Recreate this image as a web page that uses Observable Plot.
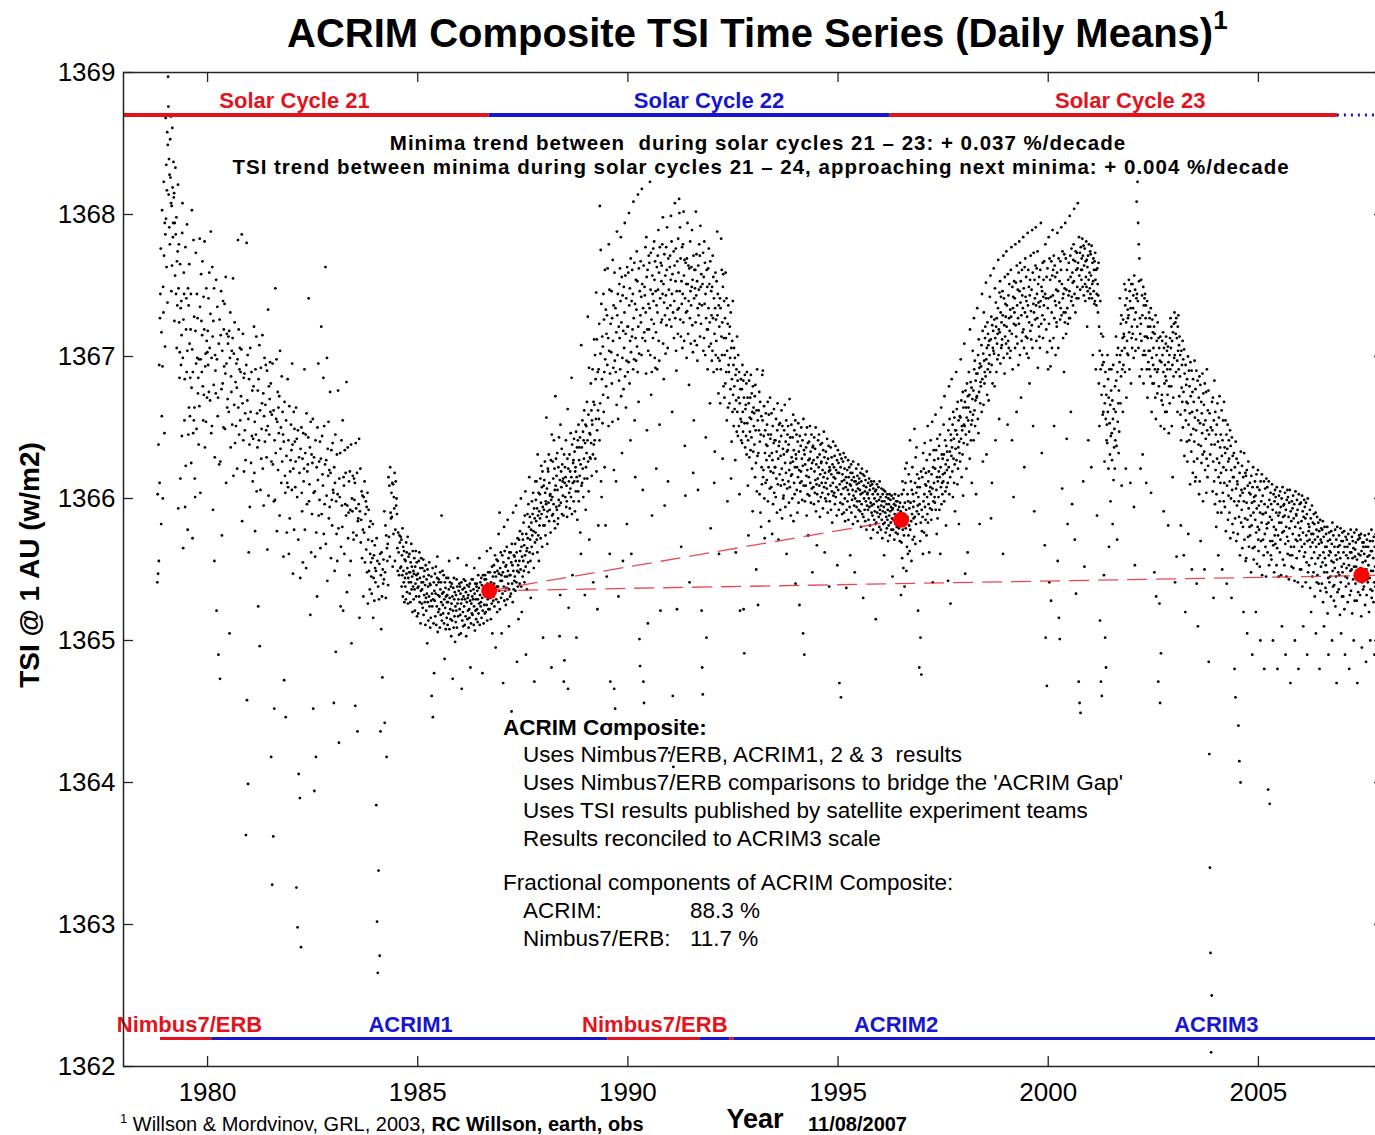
<!DOCTYPE html>
<html>
<head>
<meta charset="utf-8">
<script src="https://cdn.jsdelivr.net/npm/d3@7"></script>
<script src="https://cdn.jsdelivr.net/npm/@observablehq/plot@0.6"></script>
<style>
  html, body { margin: 0; padding: 0; background: #fff; overflow: hidden; }
  #wrap { position: relative; width: 1375px; height: 1135px; overflow: hidden; font-family: "Liberation Sans", Arial, Helvetica, sans-serif; }
  #chart { position: absolute; left: 0; top: 0; width: 1384px; }
  #chart svg { max-width: none !important; }
  .ov { position: absolute; white-space: pre; color: #000; }
  .title { font-weight: bold; font-size: 40px; left: 287px; top: 9px; }
  .title sup { font-size: 26px; position: relative; top: -4px; }
  .note { font-weight: bold; font-size: 20.5px; letter-spacing: 1px; line-height: 20px; transform: translateX(-50%); }
  .blk { font-size: 22.5px; }
</style>
</head>
<body>
<div id="wrap">
  <div id="chart"></div>
</div>
<script>
// ---------------- DATA ----------------
// Daily TSI values, grouped in 0.1-year bins.
// Each row: [bin start (year), "TSI − 1360 in 0.01 W/m² for successive days in that bin"]
const cycle21Bins = [
  [1978.8, "541 603 547 638 556 694 611 727 744 776 582"],
  [1978.9, "717 658 803 693 600 749 731 823 771 646 794 707 786"],
  [1979.0, "868 797 835 763 817 858 738 849 897 876 814 839 791 828"],
  [1979.1, "779 853 826 869 808 746 806 764 861 819 784 794 837 812"],
  [1979.2, "815 725 794 757 833 786 744 798 706 767 736 774 821"],
  [1979.3, "593 748 779 724 685 703 765 614 734 694 739 715 644 787"],
  [1979.4, "808 699 565 726 759 744 655 684 594 777 623 719 741"],
  [1979.5, "689 793 704 578 748 645 736 664 765 709 658 685 719"],
  [1979.6, "744 625 678 803 705 572 689 646 782 655 728 664 614"],
  [1979.7, "601 718 773 695 649 744 699 727 674 685 638 698"],
  [1979.8, "665 783 735 604 698 758 725 689 715 767 679 655"],
  [1979.9, "742 673 719 781 636 693 702 654 748 711 671 703"],
  [1980.0, "718 694 741 675 759 706 669 730 788 646 699"],
  [1980.1, "651 763 714 592 725 680 748 556 629 701 690 674"],
  [1980.2, "754 521 698 735 658 671 490 709 624 726 473"],
  [1980.3, "626 715 746 677 574 704 681 739 650 719 693"],
  [1980.4, "737 649 688 756 611 695 716 664 670 709 714"],
  [1980.5, "661 718 505 699 731 636 686 675 704 652 713"],
  [1980.6, "755 616 702 666 724 639 682 651 695 678"],
  [1980.7, "621 698 782 664 719 645 691 706 655 689 672"],
  [1980.8, "705 786 584 667 716 641 685 619 688 648 660"],
  [1980.9, "627 363 694 780 458 669 701 399 656 562 684 638"],
  [1981.0, "594 706 661 625 689 644 676 612 642 679"],
  [1981.1, "721 618 654 577 691 645 714 605 660 636 676"],
  [1981.2, "524 684 641 708 496 662 606 692 628 649 667"],
  [1981.3, "715 621 674 595 658 699 640 666 694 648"],
  [1981.4, "629 690 564 651 733 602 679 645 670 696 661"],
  [1981.5, "681 418 626 659 328 695 624 362 662 598 452 641"],
  [1981.6, "599 748 632 656 698 577 654 675 620 664 646"],
  [1981.7, "672 588 704 635 650 611 686 626 661 645"],
  [1981.8, "559 640 472 668 616 604 446 655 630 576 611"],
  [1981.9, "684 608 641 561 665 586 619 627 652 634"],
  [1982.0, "606 695 638 547 621 661 578 649 640 608 626"],
  [1982.1, "664 326 642 601 298 648 571 406 629 618 389"],
  [1982.2, "544 635 284 650 604 591 628 555 646 612 621"],
  [1982.3, "691 578 632 645 551 660 596 619 624 643"],
  [1982.4, "741 598 610 636 518 654 562 631 589 625"],
  [1982.5, "656 452 604 629 394 605 559 641 418 576 622"],
  [1982.6, "531 650 613 695 588 626 599 640 565 628"],
  [1982.7, "721 589 644 617 609 685 575 651 596 624"],
  [1982.8, "763 568 627 602 699 542 635 616 654 586 620"],
  [1982.9, "594 675 618 558 634 599 581 639 606 604"],
  [1983.0, "456 622 549 611 645 492 598 575 631 556 603"],
  [1983.1, "676 579 428 614 601 632 524 566 641 595"],
  [1983.2, "580 655 521 615 609 561 634 596 618 588"],
  [1983.3, "682 534 595 636 572 590 612 546 619 592"],
  [1983.4, "556 638 498 600 591 616 576 571 614 599"],
  [1983.5, "611 454 639 593 574 618 436 584 586 596"],
  [1983.6, "642 516 591 621 569 585 605 558 602 578"],
  [1983.7, "531 601 576 612 555 589 598 564 594 548"],
  [1983.8, "604 526 571 592 549 580 536 561 584 555 545"],
  [1983.9, "533 570 558 582 516 544 560 528 567 551 541"],
  [1984.0, "549 384 572 302 556 266 538 338 529 554 278"],
  [1984.1, "561 436 546 508 562 531 474 550 540 557 543"],
  [1984.2, "591 442 548 581 530 574 418 565 556 568 539"],
  [1984.3, "615 573 609 559 622 590 586 604 587 611"],
  [1984.4, "552 610 575 601 593 618 556 578 612 595 600"],
  [1984.5, "589 565 549 576 562 546 574 569 551 573"],
  [1984.6, "552 571 538 560 546 579 531 566 549 541 563 527 557 544"],
  [1984.7, "538 556 529 569 547 562 534 551 573 526 544 559 541 548"],
  [1984.8, "561 533 548 527 555 541 568 536 552 545 520 563 538 549"],
  [1984.9, "529 547 558 536 521 552 540 563 531 546 555 517 543 537"],
  [1985.0, "547 519 538 556 531 562 527 544 551 512 535 558 541 526"],
  [1985.1, "536 551 523 541 557 518 545 532 549 527 539 511 553 530"],
  [1985.2, "521 543 533 498 550 527 538 514 546 531 555 524 540 509"],
  [1985.3, "539 516 528 545 461 533 524 551 446 529 512 541 477 535"],
  [1985.4, "528 547 517 533 552 511 539 524 544 559 506 532 520 541"],
  [1985.5, "543 522 531 509 548 536 518 541 527 588 514 533 549 525"],
  [1985.6, "519 534 546 512 529 487 541 523 537 508 531 544 516 527"],
  [1985.7, "532 511 527 544 519 536 556 508 530 541 522 515 538 503"],
  [1985.8, "526 540 514 531 473 521 537 509 544 529 517 534 499 524"],
  [1985.9, "513 532 521 543 509 538 526 558 517 529 535 504 540 522"],
  [1986.0, "538 518 533 505 526 541 466 529 514 536 520 510 531 543"],
  [1986.1, "524 537 511 529 542 517 534 503 553 527 539 515 530 521"],
  [1986.2, "532 509 538 522 516 540 528 481 535 512 526 543 519 531"],
  [1986.3, "518 543 529 536 511 524 551 533 507 540 521 529 515 538"],
  [1986.4, "540 522 535 513 529 546 519 537 526 558 511 532 541 524"],
  [1986.5, "527 544 516 539 530 477 521 546 534 512 538 525 543 519"],
  [1986.6, "546 531 520 543 536 525 563 514 540 529 548 522 537 533"]
];
const cycle22Bins = [
  [1986.7, "539 522 548 530 565 515 541 534 526 552 505 537 545 528"],
  [1986.8, "531 553 540 524 548 560 536 495 545 529 557 538 520 549"],
  [1986.9, "556 538 527 575 547 535 590 522 551 542 562 530 546 505"],
  [1987.0, "542 560 533 548 470 555 538 580 528 563 545 535 552 525"],
  [1987.1, "553 537 566 545 529 585 549 540 558 510 536 562 546 531"],
  [1987.2, "546 562 533 555 450 568 540 553 527 590 549 536 560 542"],
  [1987.3, "559 545 568 535 556 595 541 562 485 549 572 538 553 515"],
  [1987.4, "548 571 556 540 577 563 550 600 538 566 520 559 575 545"],
  [1987.5, "571 556 583 549 567 541 588 560 605 552 490 575 563 536"],
  [1987.6, "565 589 572 555 596 548 580 615 562 587 571 556 530 578"],
  [1987.7, "583 566 598 574 589 561 604 577 551 593 471 586 569 612"],
  [1987.8, "576 599 584 612 571 593 562 631 588 574 604 556 591 581"],
  [1987.9, "603 586 614 572 597 623 589 608 566 619 594 502 581 609"],
  [1988.0, "592 613 581 626 604 574 598 596 657 587 607 568 591 621"],
  [1988.1, "619 597 631 584 611 592 602 603 576 627 599 481 645 588"],
  [1988.2, "601 626 589 614 596 641 584 621 606 579 672 609 628 594"],
  [1988.3, "616 592 632 606 582 586 622 599 643 595 503 613 532 652"],
  [1988.4, "597 619 608 635 589 624 612 602 614 588 471 631 486 611"],
  [1988.5, "622 601 615 641 594 609 598 587 628 663 466 621 523 612"],
  [1988.6, "604 631 593 619 607 646 601 615 685 589 638 546 611 625"],
  [1988.7, "627 598 642 612 633 591 619 622 605 647 502 615 636 585"],
  [1988.8, "612 641 605 652 598 627 636 616 643 576 624 561 708 609"],
  [1988.9, "636 611 655 621 647 601 641 628 662 614 532 639 652 592"],
  [1989.0, "622 651 632 668 614 641 728 626 659 605 692 571 646 629"],
  [1989.1, "645 628 681 639 662 616 655 652 691 631 541 668 638 712"],
  [1989.2, "666 641 701 628 684 656 745 619 712 648 522 689 662 581"],
  [1989.3, "691 656 723 641 806 667 702 775 612 737 601 684 714 653"],
  [1989.4, "707 673 744 661 726 689 622 761 698 581 733 679 716 545"],
  [1989.5, "729 694 762 671 713 651 779 704 747 561 688 471 723 441"],
  [1989.6, "703 746 681 727 654 768 711 692 736 620 466 759 697 452"],
  [1989.7, "734 689 612 717 666 788 729 701 744 656 531 721 683 751"],
  [1989.8, "713 762 691 739 784 672 724 756 632 699 743 556 718 677"],
  [1989.9, "749 706 731 794 686 757 716 664 741 697 582 763 721 689"],
  [1990.0, "721 759 696 801 736 681 748 711 641 769 703 561 739 714"],
  [1990.1, "761 719 744 691 809 727 698 766 655 737 615 713 754 697"],
  [1990.2, "733 774 707 753 689 814 721 668 762 702 501 746 482 729"],
  [1990.3, "767 724 742 701 818 751 713 606 734 471 764 456 717 749"],
  [1990.4, "743 711 777 731 688 784 756 648 719 761 512 704 737 771"],
  [1990.5, "719 766 734 823 701 747 773 673 726 689 588 757 744 713"],
  [1990.6, "776 739 723 781 754 699 767 692 746 717 621 736 763 691"],
  [1990.7, "731 771 747 789 711 759 697 652 777 741 521 766 724 753"],
  [1990.8, "764 726 779 744 798 709 751 684 738 772 595 729 757 702"],
  [1990.9, "743 777 722 761 791 734 706 612 769 441 747 421 726 763"],
  [1991.0, "771 736 754 799 721 781 744 661 758 461 731 411 774 713"],
  [1991.1, "739 764 808 727 753 776 704 690 746 522 767 733 716 783"],
  [1991.2, "759 734 811 801 746 791 726 769 714 566 753 737 777 706"],
  [1991.3, "744 779 724 802 757 711 768 637 741 602 766 731 751 699"],
  [1991.4, "769 732 794 751 716 764 739 680 762 541 727 781 746 709"],
  [1991.5, "736 763 749 789 722 754 703 618 771 655 741 761 711 748"],
  [1991.6, "761 724 802 743 772 708 753 697 734 606 764 729 747 779"],
  [1991.7, "737 771 714 792 749 723 758 521 736 481 751 462 773 704"],
  [1991.8, "756 713 781 737 766 701 744 643 727 502 761 719 749 691"],
  [1991.9, "719 762 734 776 707 751 724 667 767 579 709 746 729 697"],
  [1992.0, "749 704 771 727 756 689 741 611 716 633 734 759 701 726"],
  [1992.1, "711 753 691 788 729 744 699 674 736 561 721 697 741 667"],
  [1992.2, "734 691 783 714 761 701 724 628 749 758 679 713 739 671"],
  [1992.3, "701 727 681 759 713 689 741 655 704 598 723 664 736 694"],
  [1992.4, "689 716 667 721 699 677 731 614 706 640 684 711 661 739"],
  [1992.5, "673 694 651 706 679 663 699 627 687 562 669 691 647 714"],
  [1992.6, "661 683 644 701 671 651 689 603 667 521 677 656 684 641"],
  [1992.7, "654 677 639 694 661 647 683 522 671 491 653 687 636 663"],
  [1992.8, "666 644 681 631 689 653 671 609 641 574 667 683 629 657"],
  [1992.9, "647 671 634 687 656 643 674 621 661 591 679 633 664 651"],
  [1993.0, "660 638 672 615 680 648 625 550 662 605 691 630 655 525"],
  [1993.1, "632 662 648 675 603 640 668 590 645 580 658 622 610 687"],
  [1993.2, "655 690 615 620 644 665 600 572 632 648 611 660 638 627"],
  [1993.3, "613 652 637 668 598 645 622 659 584 630 607 671 642 619"],
  [1993.4, "645 608 660 632 575 627 651 596 618 639 663 604 641 622"],
  [1993.5, "622 641 601 656 614 633 590 648 667 610 628 571 637 652"],
  [1993.6, "640 617 653 592 630 609 644 662 621 586 651 613 635 600"],
  [1993.7, "602 631 648 610 666 625 594 640 618 655 561 633 607 645"],
  [1993.8, "634 651 612 638 597 620 670 608 643 625 588 616 652 629"],
  [1993.9, "617 600 643 626 659 584 634 611 648 603 622 655 540 631"],
  [1994.0, "628 645 606 622 590 640 615 653 597 633 620 525 644 611"],
  [1994.1, "605 637 619 650 612 628 599 641 623 505 656 609 634 490"],
  [1994.2, "631 598 624 645 609 636 616 588 650 620 603 639 574 627"],
  [1994.3, "615 640 602 628 651 611 633 597 621 645 607 625 548 636"],
  [1994.4, "637 608 627 596 643 619 604 635 613 650 591 624 610 567"],
  [1994.5, "603 629 614 641 598 622 645 609 631 587 617 638 601 625"],
  [1994.6, "626 611 639 604 620 593 634 615 647 608 629 562 618 600"],
  [1994.7, "611 633 598 625 607 642 614 590 628 603 637 619 538 622"],
  [1994.8, "598 620 609 636 592 617 629 605 583 624 611 640 602 615"],
  [1994.9, "622 604 630 596 614 637 601 620 608 588 627 553 618 634"],
  [1995.0, "606 625 592 618 470 610 631 597 622 460 603 628 612 589"],
  [1995.1, "617 596 626 607 632 590 613 621 600 584 629 608 615 537"],
  [1995.2, "592 611 620 598 606 627 585 615 603 622 594 610 560 618"],
  [1995.3, "609 624 590 613 599 618 606 582 626 602 615 595 612 548"],
  [1995.4, "600 587 612 605 621 594 610 598 616 584 607 624 592 611"],
  [1995.5, "614 598 606 591 618 603 580 612 596 621 589 604 617 530"],
  [1995.6, "587 609 600 616 592 605 584 613 598 608 578 619 595 603"],
  [1995.7, "604 592 611 585 600 614 594 606 581 609 597 572 612 590"],
  [1995.8, "595 610 588 603 578 607 596 612 585 600 591 605 582 515"],
  [1995.9, "606 583 598 610 590 576 603 594 608 587 599 580 612 592"],
  [1996.0, "589 601 578 595 607 585 598 572 603 591 582 606 594 560"],
  [1996.1, "598 583 605 590 576 601 587 596 579 603 585 592 570 600"],
  [1996.2, "581 596 588 603 574 591 599 583 594 578 602 586 592 545"],
  [1996.3, "593 578 600 585 596 571 589 603 582 595 576 598 587 580"],
  [1996.4, "584 598 575 592 587 602 579 594 586 570 597 582 591 532"]
];
const cycle23Bins = [
  [1996.5, "586 569 603 558 612 578 594 551 606 574 589 538 597 621"],
  [1996.6, "611 579 592 549 625 566 587 603 561 598 574 617 581 593"],
  [1996.7, "563 641 578 597 612 584 556 606 589 622 571 603 594 586"],
  [1996.8, "598 573 649 587 611 568 629 582 604 636 591 617 608 595"],
  [1996.9, "521 601 589 614 481 596 608 570 502 583 619 476 592 577"],
  [1997.0, "615 587 561 632 598 621 576 603 639 594 610 585 618 609"],
  [1997.1, "574 627 601 589 651 583 612 596 619 562 605 631 593 608"],
  [1997.2, "641 603 585 617 592 654 607 541 622 598 634 611 627 601"],
  [1997.3, "597 621 659 592 634 606 575 615 642 586 612 628 601 619"],
  [1997.4, "637 592 615 645 561 622 608 664 596 631 611 603 628 617"],
  [1997.5, "612 652 631 598 672 618 641 605 624 581 637 608 620 633"],
  [1997.6, "627 611 542 648 622 679 603 656 633 615 526 645 641 630"],
  [1997.7, "684 636 619 652 601 661 628 642 611 657 624 591 648 635"],
  [1997.8, "648 689 627 663 645 610 668 621 636 655 582 640 632 658"],
  [1997.9, "626 657 698 642 669 615 651 648 631 675 602 664 639 652"],
  [1998.0, "709 651 668 547 676 645 664 621 657 681 638 562 672 655"],
  [1998.1, "664 689 647 673 628 719 661 682 641 652 678 611 655 670"],
  [1998.2, "704 659 676 641 727 691 662 697 651 669 683 603 688 671"],
  [1998.3, "672 734 688 656 701 646 712 675 692 582 695 667 682 679"],
  [1998.4, "693 708 661 744 684 718 626 702 666 731 697 681 689 713"],
  [1998.5, "721 686 752 698 631 706 673 724 691 716 708 669 695 711"],
  [1998.6, "701 742 689 757 712 586 728 694 611 722 681 706 718 704"],
  [1998.7, "762 702 726 679 748 713 641 738 721 689 727 709 698 716"],
  [1998.8, "734 768 701 719 656 745 717 753 695 731 742 706 724 708"],
  [1998.9, "712 746 729 561 771 699 741 722 688 756 714 737 728 709"],
  [1999.0, "774 721 736 702 652 758 711 743 706 727 751 718 699 733"],
  [1999.1, "704 761 728 777 716 641 749 691 734 742 601 723 753 731"],
  [1999.2, "741 706 779 722 752 714 661 764 736 709 747 727 694 759"],
  [1999.3, "723 781 746 701 766 738 753 671 729 711 761 743 717 734"],
  [1999.4, "784 719 748 706 622 763 731 769 742 714 756 739 702 728"],
  [1999.5, "713 787 736 761 699 749 724 681 743 754 718 771 732 712"],
  [1999.6, "747 722 789 706 759 651 737 773 731 591 754 741 726 764"],
  [1999.7, "791 736 711 762 744 727 774 692 751 738 721 756 714 735"],
  [1999.8, "706 761 739 794 723 749 632 746 729 766 713 742 754 736"],
  [1999.9, "767 726 567 744 779 502 741 719 756 468 703 762 734 691"],
  [2000.0, "741 784 723 541 769 711 754 693 742 528 767 731 706 757"],
  [2000.1, "789 743 761 713 771 651 727 764 739 756 701 736 747 724"],
  [2000.2, "721 759 787 556 746 706 769 516 738 753 501 726 767 734"],
  [2000.3, "761 791 729 751 607 774 741 713 744 731 689 772 748 724"],
  [2000.4, "794 731 769 716 747 642 761 734 582 723 754 743 766 727"],
  [2000.5, "746 799 727 771 756 661 739 776 742 596 759 752 736 768"],
  [2000.6, "779 753 804 744 571 767 731 774 533 761 741 773 749 762"],
  [2000.7, "808 766 741 471 784 757 456 773 747 449 777 761 754 769"],
  [2000.8, "761 783 749 771 612 778 743 764 552 776 751 739 767 756"],
  [2000.9, "781 749 768 721 763 746 771 641 754 779 741 759 748 774"],
  [2001.0, "744 772 757 622 778 741 751 766 701 753 769 746 761 737"],
  [2001.1, "767 739 773 754 691 761 736 744 588 762 751 731 743 766"],
  [2001.2, "681 721 651 704 514 739 691 471 716 673 461 701 694 659"],
  [2001.3, "714 661 696 546 679 626 667 502 689 656 481 673 641 652"],
  [2001.4, "639 701 661 684 621 671 566 691 653 631 666 598 644 676"],
  [2001.5, "691 646 627 669 582 656 694 613 663 636 649 621 679 641"],
  [2001.6, "661 714 683 637 701 571 689 654 706 667 632 676 647 696"],
  [2001.7, "741 701 667 723 686 729 609 704 691 713 661 726 694 716"],
  [2001.8, "714 751 706 689 736 747 621 724 671 741 711 702 733 727"],
  [2001.9, "701 729 754 717 691 746 739 611 734 681 751 713 721 706"],
  [2002.0, "751 716 734 743 699 594 757 726 553 747 704 731 712 741"],
  [2002.1, "809 744 721 823 739 794 706 779 753 769 686 727 716 621"],
  [2002.2, "723 754 711 691 743 729 631 701 749 681 736 704 741 714"],
  [2002.3, "744 701 727 736 611 714 691 739 671 713 721 696 704 731"],
  [2002.4, "691 727 704 721 686 734 604 713 661 699 726 681 717 694"],
  [2002.5, "706 681 721 548 716 691 671 729 656 531 701 711 689 674"],
  [2002.6, "724 691 471 713 679 706 526 697 456 714 651 491 696 669"],
  [2002.7, "673 711 701 666 717 689 591 706 649 681 694 661 686 709"],
  [2002.8, "714 683 661 704 691 673 707 581 696 646 679 701 667 713"],
  [2002.9, "691 727 706 679 721 651 711 694 615 717 671 686 723 699"],
  [2003.0, "731 701 541 724 716 689 727 559 713 697 661 721 704 729"],
  [2003.1, "691 708 672 714 686 701 659 581 641 704 678 694 668 711"],
  [2003.2, "650 698 675 560 705 630 688 662 520 694 655 680 668 640"],
  [2003.3, "684 626 667 700 575 652 690 641 679 660 610 696 672 645"],
  [2003.4, "633 690 550 661 675 618 684 649 668 626 640 697 657 612"],
  [2003.5, "677 615 648 690 540 662 628 683 510 655 638 671 603 686"],
  [2003.6, "612 653 680 570 637 668 625 660 646 688 631 598 674 652"],
  [2003.7, "666 633 550 681 620 655 642 675 604 628 691 648 615 662"],
  [2003.8, "623 676 485 645 420 660 340 631 280 650 210 638 250 668"],
  [2003.9, "648 605 671 626 530 655 612 683 638 596 661 620 645 580"],
  [2004.0, "603 652 628 667 590 640 560 615 657 625 672 598 636 611"],
  [2004.1, "645 618 590 662 630 550 641 604 655 622 598 668 611 636"],
  [2004.2, "594 632 655 577 620 645 540 609 635 652 585 626 602 641"],
  [2004.3, "628 590 612 648 572 637 600 620 530 643 606 582 630 615"],
  [2004.4, "576 615 632 598 480 622 586 460 640 607 570 628 595 612"],
  [2004.5, "610 575 625 440 598 587 415 618 560 602 400 633 583 606"],
  [2004.6, "592 623 565 604 580 615 520 598 632 571 607 586 618 556"],
  [2004.7, "616 558 597 620 505 585 609 573 626 593 566 604 580 611"],
  [2004.8, "574 603 588 548 616 581 597 490 608 565 622 590 557 601"],
  [2004.9, "598 566 612 585 602 520 576 617 593 554 608 580 620 571"],
  [2005.0, "563 595 578 606 552 590 500 612 570 598 583 617 546 589"],
  [2005.1, "602 571 589 560 612 480 596 575 607 566 590 545 614 582"],
  [2005.2, "579 608 562 594 395 583 612 553 599 385 587 570 604 560"],
  [2005.3, "596 557 585 610 570 592 500 567 603 580 548 598 574 606"],
  [2005.4, "568 601 578 590 553 608 565 480 596 574 588 545 602 583"],
  [2005.5, "590 562 605 571 594 546 583 600 510 576 608 557 587 595"],
  [2005.6, "577 596 553 588 604 568 490 592 580 545 599 573 606 561"],
  [2005.7, "601 570 587 543 597 579 606 560 470 591 566 584 552 598"],
  [2005.8, "560 593 575 602 551 586 566 596 542 500 580 605 571 589"],
  [2005.9, "588 558 599 570 592 541 583 480 603 574 563 596 550 579"],
  [2006.0, "571 597 550 584 566 602 538 591 576 510 587 559 599 568"],
  [2006.1, "594 562 586 541 597 574 555 589 490 570 600 548 582 577"],
  [2006.2, "553 580 571 592 537 566 586 520 575 558 595 545 569 583"],
  [2006.3, "575 548 589 562 582 531 571 554 590 505 566 578 541 587"],
  [2006.4, "546 573 558 583 540 568 577 480 560 585 535 571 552 579"],
  [2006.5, "569 540 578 555 584 527 562 573 510 548 580 558 566 537"],
  [2006.6, "553 575 534 566 548 580 519 570 544 490 560 576 541 563"],
  [2006.7, "571 545 562 531 577 556 568 500 583 549 538 574 555 528"],
  [2006.8, "539 566 551 578 524 560 545 571 470 557 580 534 566 548"],
  [2006.9, "562 536 574 546 567 518 558 579 541 505 570 552 531 576"],
  [2007.0, "548 570 531 562 554 577 522 566 490 545 573 538 560 551"],
  [2007.1, "571 544 566 527 558 575 540 553 480 568 532 562 549 578"],
  [2007.2, "535 562 550 573 519 558 570 543 565 500 552 576 528 559"],
  [2007.3, "564 540 569 552 578 528 557 470 545 571 534 561 549 574"],
  [2007.4, "546 572 532 560 551 575 517 563 495 541 569 555 536 566"],
  [2007.5, "569 538 561 547 574 525 556 566 485 550 532 571 543 559"],
  [2007.6, "541 566 553 575 520 560 544 570 500 536 563 549 578 530"],
  [2007.7, "563 535 570 549 558 527 573 541 490 566 552 538 575 546"]
];

// Solar-cycle minima (red dots) and trend lines between them
const minimaYear = [1986.7, 1996.5, 2007.45];
const minimaTSI  = [1365.35, 1365.85, 1365.46];
const trendEndYear = 2008;      // trend 21–24 continues to axis end
const trendEndTSI = 1365.46;

// Solar cycle bar (top)
const cycleNames = ["Solar Cycle 21", "Solar Cycle 22", "Solar Cycle 23"];
const cycleStart = [1978.0, 1986.7, 1996.24];
const cycleEnd   = [1986.7, 1996.24, 2006.88];
const cycleLabelAt = [1982.07, 1991.93, 2001.95];
const nextCycleStart = 2006.88, nextCycleEnd = 2008;
const cycleBarTSI = 1368.70, cycleLabelTSI = 1368.80;

// Instrument bar (bottom)
const instrumentSegName  = ["Nimbus7/ERB", "ACRIM1", "Nimbus7/ERB", "ACRIM2", "Nimbus7/ERB", "ACRIM2/3"];
const instrumentSegStart = [1978.88, 1980.10, 1989.52, 1991.71, 1992.43, 1992.52];
const instrumentSegEnd   = [1980.10, 1989.52, 1991.71, 1992.43, 1992.52, 2008.0];
const instrumentLabels   = ["Nimbus7/ERB", "ACRIM1", "Nimbus7/ERB", "ACRIM2", "ACRIM3"];
const instrumentLabelAt  = [1979.57, 1984.83, 1990.64, 1996.38, 2004.0];
const instrumentBarTSI = 1362.197, instrumentLabelTSI = 1362.29;

const xTicks = [1980, 1985, 1990, 1995, 2000, 2005];
const yTicks = [1362, 1363, 1364, 1365, 1366, 1367, 1368, 1369];

// ---------------- BUILD ----------------
const RED = "#e3121c", BLUE = "#1616d0";
const isNimbus = n => n.startsWith("Nimbus");

function expand(bins) {
  const out = [];
  for (const [start, vals] of bins) {
    const vs = vals.trim().split(/\s+/).map(Number);
    vs.forEach((v, i) => out.push({year: start + (i + 0.5) * 0.1 / vs.length, tsi: 1360 + v / 100}));
  }
  return out;
}
const daily = [...expand(cycle21Bins), ...expand(cycle22Bins), ...expand(cycle23Bins)];
const minima = minimaYear.map((y, i) => ({year: y, tsi: minimaTSI[i]}));
const trends = [
  {x1: minima[0].year, y1: minima[0].tsi, x2: minima[1].year, y2: minima[1].tsi},
  {x1: minima[0].year, y1: minima[0].tsi, x2: trendEndYear, y2: trendEndTSI}
];
const cycles = cycleNames.map((n, i) => ({name: n, start: cycleStart[i], end: cycleEnd[i], at: cycleLabelAt[i], i}));
const segs = instrumentSegName.map((n, i) => ({name: n, start: instrumentSegStart[i], end: instrumentSegEnd[i]}));
const instLabels = instrumentLabels.map((n, i) => ({name: n, at: instrumentLabelAt[i]}));

const W = 1384, H = 1135, ML = 123, MR = 0, MT = 72, MB = 69;
const PW = W - ML - MR, PH = H - MT - MB;
const TICK = 10;
const FONT = "Liberation Sans, Arial, Helvetica, sans-serif";

const chart = Plot.plot({
  width: W, height: H,
  marginLeft: ML, marginRight: MR, marginTop: MT, marginBottom: MB,
  x: {domain: [1978, 2008]},
  y: {domain: [1362, 1369]},
  style: {fontFamily: FONT, background: "transparent", color: "#000", maxWidth: "none"},
  marks: [
    Plot.dot(daily, {x: "year", y: "tsi", r: 1.4, fill: "#000", stroke: "none"}),
    Plot.link(trends, {x1: "x1", y1: "y1", x2: "x2", y2: "y2", stroke: "#e8343c", strokeWidth: 1.3, strokeDasharray: "20,9", strokeOpacity: 0.9}),
    Plot.dot(minima, {x: "year", y: "tsi", r: 8, fill: "#f00", stroke: "none"}),
    Plot.ruleY(cycles, {y: () => cycleBarTSI, x1: "start", x2: "end", stroke: d => d.i % 2 ? BLUE : RED, strokeWidth: 4}),
    Plot.ruleY([0], {y: () => cycleBarTSI, x1: () => nextCycleStart, x2: () => nextCycleEnd, stroke: BLUE, strokeWidth: 3, strokeDasharray: "2,5"}),
    Plot.text(cycles, {x: "at", y: () => cycleLabelTSI, text: "name", fill: d => d.i % 2 ? BLUE : RED, fontSize: 22, fontWeight: "bold"}),
    Plot.ruleY(segs, {y: () => instrumentBarTSI, x1: "start", x2: "end", stroke: d => isNimbus(d.name) ? RED : BLUE, strokeWidth: 3}),
    Plot.text(instLabels, {x: "at", y: () => instrumentLabelTSI, text: "name", fill: d => isNimbus(d.name) ? RED : BLUE, fontSize: 22, fontWeight: "bold"}),
    Plot.axisY(yTicks, {tickSize: 0, tickPadding: 8, fontSize: 26, label: null, tickFormat: d => String(d)}),
    Plot.axisX(xTicks, {tickSize: 0, tickPadding: 16, fontSize: 26, label: null, tickFormat: d => String(d)}),
    Plot.tickY(yTicks, {y: d => d, insetRight: PW - TICK, stroke: "#222", strokeWidth: 1.3}),
    Plot.tickY(yTicks, {y: d => d, insetLeft: PW - TICK, stroke: "#222", strokeWidth: 1.3}),
    Plot.tickX(xTicks, {x: d => d, insetTop: PH - TICK, stroke: "#222", strokeWidth: 1.3}),
    Plot.tickX(xTicks, {x: d => d, insetBottom: PH - TICK, stroke: "#222", strokeWidth: 1.3}),
    Plot.frame({stroke: "#222", strokeWidth: 1.5})
  ]
});
chart.style.maxWidth = "none";
chart.style.width = W + "px";
chart.style.height = H + "px";
document.getElementById("chart").appendChild(chart);

// ---------------- TEXT OVERLAYS ----------------
const wrap = document.getElementById("wrap");
function addText(html, cls, css) {
  const d = document.createElement("div");
  d.className = "ov " + (cls || "");
  d.innerHTML = html;
  Object.assign(d.style, css || {});
  wrap.appendChild(d);
  return d;
}
addText("ACRIM Composite TSI Time Series (Daily Means)<sup>1</sup>", "title");
addText("Minima trend between  during solar cycles 21 – 23: + 0.037 %/decade", "note", {left: "758px", top: "133px"});
addText("TSI trend between minima during solar cycles 21 – 24, approaching next minima: + 0.004 %/decade", "note", {left: "761px", top: "157px"});

const blk = [
  ["<b>ACRIM Composite:</b>", 503, 715],
  ["Uses Nimbus7/ERB, ACRIM1, 2 &amp; 3  results", 523, 742],
  ["Uses Nimbus7/ERB comparisons to bridge the 'ACRIM Gap'", 523, 770],
  ["Uses TSI results published by satellite experiment teams", 523, 798],
  ["Results reconciled to ACRIM3 scale", 523, 826],
  ["Fractional components of ACRIM Composite:", 503, 870],
  ["ACRIM:", 523, 898], ["88.3 %", 690, 898],
  ["Nimbus7/ERB:", 523, 926], ["11.7 %", 690, 926]
];
for (const [t, x, y] of blk) addText(t, "blk", {left: x + "px", top: y + "px"});

// y axis label
addText("TSI @ 1 AU (w/m2)", "", {left: "30px", top: "565px", fontWeight: "bold", fontSize: "28px", transform: "translate(-50%, -50%) rotate(-90deg)"});
// footnote
addText("<sup style='font-size:13px;line-height:0'>1</sup> Willson &amp; Mordvinov, GRL, 2003, <b>RC Willson, earth, obs</b>", "", {left: "120px", top: "1113px", fontSize: "20px", lineHeight: "22px"});
addText("<b>11/08/2007</b>", "", {left: "808px", top: "1113px", fontSize: "20px", lineHeight: "22px"});
// x axis label
addText("Year", "", {left: "755px", top: "1104px", fontWeight: "bold", fontSize: "27px", transform: "translateX(-50%)"});
</script>
</body>
</html>
